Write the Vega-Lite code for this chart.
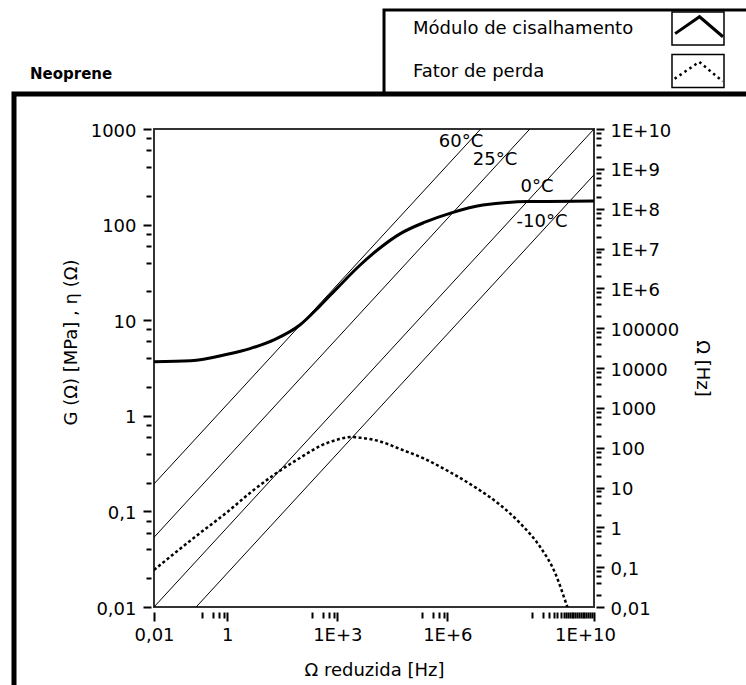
{
  "$schema": "https://vega.github.io/schema/vega-lite/v6.json",
  "width": 440,
  "height": 478,
  "autosize": {"type": "none"},
  "padding": {"left": 154, "top": 129, "right": 152, "bottom": 78},
  "background": "white",
  "config": {
    "font": "DejaVu Sans",
    "view": {"stroke": "#333333", "strokeWidth": 2},
    "axis": {
      "grid": false, "domain": false,
      "labelFont": "DejaVu Sans", "labelFontSize": 18, "labelColor": "black",
      "titleFont": "DejaVu Sans", "titleFontSize": 18, "titleFontWeight": "normal", "titleColor": "black",
      "tickColor": "black", "tickWidth": 1.5,
      "labelOverlap": false, "labelFlush": false
    }
  },
  "datasets": {
    "modulus": [
      {"omega": 0.01, "G": 3.68},
      {"omega": 0.1, "G": 3.76},
      {"omega": 1, "G": 4.4},
      {"omega": 4.15, "G": 5.05},
      {"omega": 20, "G": 6.3},
      {"omega": 95, "G": 8.9},
      {"omega": 340, "G": 14.2},
      {"omega": 1050, "G": 22.2},
      {"omega": 4200, "G": 37.8},
      {"omega": 14500, "G": 56.9},
      {"omega": 51000, "G": 80},
      {"omega": 245000, "G": 106},
      {"omega": 1170000, "G": 131},
      {"omega": 9300000, "G": 160},
      {"omega": 150000000, "G": 174},
      {"omega": 10000000000, "G": 177}
    ],
    "loss": [
      {"omega": 0.01, "eta": 0.0244},
      {"omega": 0.037, "eta": 0.0367},
      {"omega": 0.18, "eta": 0.0594},
      {"omega": 1, "eta": 0.0986},
      {"omega": 4.15, "eta": 0.156},
      {"omega": 20, "eta": 0.246},
      {"omega": 95, "eta": 0.362},
      {"omega": 340, "eta": 0.483},
      {"omega": 1170, "eta": 0.572},
      {"omega": 2400, "eta": 0.6},
      {"omega": 4200, "eta": 0.59},
      {"omega": 14500, "eta": 0.54},
      {"omega": 51000, "eta": 0.45},
      {"omega": 245000, "eta": 0.353},
      {"omega": 1170000, "eta": 0.258},
      {"omega": 5600000, "eta": 0.18},
      {"omega": 27500000, "eta": 0.117},
      {"omega": 95000000, "eta": 0.0757},
      {"omega": 340000000, "eta": 0.0425},
      {"omega": 870000000, "eta": 0.0227},
      {"omega": 1800000000, "eta": 0.0105},
      {"omega": 3000000000, "eta": 0.006}
    ],
    "isotherms": [
      {"T": "60°C", "omega": 0.01, "f": 12.3},
      {"T": "60°C", "omega": 8130000, "f": 10000000000},
      {"T": "25°C", "omega": 0.01, "f": 0.562},
      {"T": "25°C", "omega": 178000000, "f": 10000000000},
      {"T": "0°C", "omega": 0.01, "f": 0.01},
      {"T": "0°C", "omega": 10000000000, "f": 10000000000},
      {"T": "-10°C", "omega": 0.141, "f": 0.01},
      {"T": "-10°C", "omega": 10000000000, "f": 708000000}
    ],
    "isolabels": [
      {"T": "60°C", "omega": 2360000, "f": 4720000000},
      {"T": "25°C", "omega": 20000000, "f": 1670000000},
      {"T": "0°C", "omega": 279000000, "f": 350000000},
      {"T": "-10°C", "omega": 382000000, "f": 46200000}
    ]
  },
  "layer": [
    {
      "layer": [
        {
          "data": {"values": [{}]},
          "mark": {"type": "rect", "fill": "white", "stroke": "black", "strokeWidth": 3, "clip": false},
          "encoding": {
            "x": {"datum": 18750, "type": "quantitative", "scale": {"type": "log", "domain": [0.01, 10000000000]}, "axis": null},
            "x2": {"datum": 1e16},
            "y": {"datum": 17580, "type": "quantitative", "scale": {"type": "log", "domain": [0.01, 1000]}, "axis": null},
            "y2": {"datum": 2323}
          }
        },
        {
          "data": {"values": [{}]},
          "mark": {"type": "rect", "filled": false, "color": "black", "strokeWidth": 5, "clip": false},
          "encoding": {
            "x": {"datum": 1.52e-6, "type": "quantitative", "scale": {"type": "log", "domain": [0.01, 10000000000]}, "axis": null},
            "x2": {"datum": 1e16},
            "y": {"datum": 2323, "type": "quantitative", "scale": {"type": "log", "domain": [0.01, 1000]}, "axis": null},
            "y2": {"datum": 1e-5}
          }
        },
        {
          "data": {"values": [{}]},
          "mark": {"type": "text", "text": "Neoprene", "font": "DejaVu Sans", "fontSize": 15, "fontWeight": "bold", "align": "left", "baseline": "middle", "color": "black", "clip": false},
          "encoding": {
            "x": {
              "datum": 4.15e-6, "type": "quantitative", "scale": {"type": "log", "domain": [0.01, 10000000000]},
              "axis": {"orient": "bottom", "values": [10000000000], "labelExpr": "'1E+10'", "tickSize": 9, "tickWidth": 2, "offset": 5, "labelPadding": 5, "labelOffset": -9, "title": null}
            },
            "y": {"datum": 3758, "type": "quantitative", "scale": {"type": "log", "domain": [0.01, 1000]}, "axis": null}
          }
        },
        {
          "data": {"values": [{}]},
          "mark": {"type": "text", "text": "Módulo de cisalhamento", "font": "DejaVu Sans", "fontSize": 18, "align": "left", "baseline": "middle", "color": "black", "clip": false},
          "encoding": {
            "x": {"datum": 115900, "type": "quantitative", "scale": {"type": "log", "domain": [0.01, 10000000000]}, "axis": null},
            "y": {"datum": 11120, "type": "quantitative", "scale": {"type": "log", "domain": [0.01, 1000]}, "axis": null}
          }
        },
        {
          "data": {"values": [{}]},
          "mark": {"type": "text", "text": "Fator de perda", "font": "DejaVu Sans", "fontSize": 18, "align": "left", "baseline": "middle", "color": "black", "clip": false},
          "encoding": {
            "x": {"datum": 115900, "type": "quantitative", "scale": {"type": "log", "domain": [0.01, 10000000000]}, "axis": null},
            "y": {"datum": 3945, "type": "quantitative", "scale": {"type": "log", "domain": [0.01, 1000]}, "axis": null}
          }
        },
        {
          "data": {"values": [{}]},
          "mark": {"type": "point", "shape": "M-1,-0.635H1V0.635H-1Z", "size": 2704, "filled": false, "stroke": "black", "strokeWidth": 1.5, "opacity": 1, "clip": false},
          "encoding": {
            "x": {"datum": 6.86e12, "type": "quantitative", "scale": {"type": "log", "domain": [0.01, 10000000000]}, "axis": null},
            "y": {"datum": 11270, "type": "quantitative", "scale": {"type": "log", "domain": [0.01, 1000]}, "axis": null}
          }
        },
        {
          "data": {"values": [{}]},
          "mark": {"type": "point", "shape": "M-0.88,0.2L0.06,-0.45L0.96,0.32", "size": 2704, "filled": false, "stroke": "black", "strokeWidth": 3, "opacity": 1, "clip": false},
          "encoding": {
            "x": {"datum": 6.86e12, "type": "quantitative", "scale": {"type": "log", "domain": [0.01, 10000000000]}, "axis": null},
            "y": {"datum": 11270, "type": "quantitative", "scale": {"type": "log", "domain": [0.01, 1000]}, "axis": null}
          }
        },
        {
          "data": {"values": [{}]},
          "mark": {"type": "point", "shape": "M-1,-0.635H1V0.635H-1Z", "size": 2704, "filled": false, "stroke": "black", "strokeWidth": 1.5, "opacity": 1, "clip": false},
          "encoding": {
            "x": {"datum": 6.86e12, "type": "quantitative", "scale": {"type": "log", "domain": [0.01, 10000000000]}, "axis": null},
            "y": {"datum": 4045, "type": "quantitative", "scale": {"type": "log", "domain": [0.01, 1000]}, "axis": null}
          }
        },
        {
          "data": {"values": [{}]},
          "mark": {"type": "point", "shape": "M-0.9,0.3L0.05,-0.35L0.95,0.4", "size": 2704, "filled": false, "stroke": "black", "strokeWidth": 2.5, "strokeDash": [2.5, 3.5], "opacity": 1, "clip": false},
          "encoding": {
            "x": {"datum": 6.86e12, "type": "quantitative", "scale": {"type": "log", "domain": [0.01, 10000000000]}, "axis": null},
            "y": {"datum": 4045, "type": "quantitative", "scale": {"type": "log", "domain": [0.01, 1000]}, "axis": null}
          }
        },
        {
          "data": {"name": "loss"},
          "mark": {"type": "line", "color": "black", "strokeWidth": 2.5, "strokeDash": [3, 2.5], "interpolate": "monotone", "clip": true},
          "encoding": {
            "x": {
              "field": "omega", "type": "quantitative", "scale": {"type": "log", "domain": [0.01, 10000000000]},
              "axis": {"orient": "bottom", "values": [0.2, 0.4, 0.6, 0.8, 200, 400, 600, 800, 200000, 400000, 600000, 800000, 200000000, 400000000, 600000000, 800000000, 1000000000, 1250000000, 1500000000, 1750000000, 2000000000, 2250000000, 2500000000, 2750000000, 3000000000, 3500000000, 4000000000, 4500000000, 5000000000, 5500000000, 6000000000, 7000000000, 8000000000, 9000000000], "labels": false, "tickSize": 6, "tickWidth": 2, "offset": 5, "title": null}
            },
            "y": {
              "field": "eta", "type": "quantitative", "scale": {"type": "log", "domain": [0.01, 1000]},
              "axis": {"orient": "left", "values": [0.02, 0.04, 0.06, 0.08, 0.2, 0.4, 0.6, 0.8, 2, 4, 6, 8, 20, 40, 60, 80, 200, 400, 600, 800], "labels": false, "tickSize": 5, "tickWidth": 2, "offset": 3, "title": null}
            }
          }
        },
        {
          "data": {"name": "modulus"},
          "mark": {"type": "line", "color": "black", "strokeWidth": 3, "interpolate": "monotone", "clip": true},
          "encoding": {
            "x": {
              "field": "omega", "type": "quantitative",
              "scale": {"type": "log", "domain": [0.01, 10000000000]},
              "axis": {
                "orient": "bottom",
                "values": [0.01, 1, 1000, 1000000],
                "labelExpr": "datum.value==0.01?'0,01':datum.value==1?'1':datum.value==1000?'1E+3':'1E+6'",
                "tickSize": 9,
                "tickWidth": 2,
                "offset": 5,
                "labelPadding": 5,
                "title": "Ω reduzida [Hz]",
                "titlePadding": 17
              }
            },
            "y": {
              "field": "G", "type": "quantitative",
              "scale": {"type": "log", "domain": [0.01, 1000]},
              "axis": {
                "orient": "left",
                "values": [0.01, 0.1, 1, 10, 100, 1000],
                "labelExpr": "datum.value<0.05?'0,01':datum.value<0.5?'0,1':format(datum.value,'d')",
                "tickSize": 8,
                "tickWidth": 2,
                "offset": 3,
                "labelPadding": 7,
                "labelOffset": 2,
                "title": "G (Ω) [MPa] ,  η (Ω)",
                "titlePadding": 10,
                "titleY": 213
              }
            }
          }
        }
      ],
      "resolve": {"axis": {"x": "independent", "y": "independent"}}
    },
    {
      "layer": [
        {
          "data": {"name": "isotherms"},
          "mark": {"type": "line", "color": "black", "strokeWidth": 1, "clip": true},
          "encoding": {
            "x": {"field": "omega", "type": "quantitative", "scale": {"type": "log", "domain": [0.01, 10000000000]}, "axis": null},
            "y": {
              "field": "f", "type": "quantitative",
              "scale": {"type": "log", "domain": [0.01, 10000000000]},
              "axis": {
                "orient": "right",
                "values": [0.01, 0.1, 1, 10, 100, 1000, 10000, 100000, 1000000, 10000000, 100000000, 1000000000, 10000000000],
                "labelExpr": "datum.value>=1000000?'1E+'+round(log(datum.value)/LN10):(datum.value<0.05?'0,01':(datum.value<0.5?'0,1':format(datum.value,'d')))",
                "tickSize": 8,
                "tickWidth": 2,
                "offset": 2,
                "labelPadding": 6,
                "labelOffset": 2,
                "title": "Ω [Hz]",
                "titlePadding": 14
              }
            },
            "detail": {"field": "T"}
          }
        },
        {
          "data": {"name": "isolabels"},
          "mark": {"type": "text", "font": "DejaVu Sans", "fontSize": 18, "align": "center", "baseline": "middle", "color": "black", "clip": false},
          "encoding": {
            "x": {"field": "omega", "type": "quantitative", "scale": {"type": "log", "domain": [0.01, 10000000000]}, "axis": null},
            "y": {
              "field": "f", "type": "quantitative", "scale": {"type": "log", "domain": [0.01, 10000000000]},
              "axis": {"orient": "right", "values": [0.02, 0.04, 0.06, 0.08, 0.2, 0.4, 0.6, 0.8, 2, 4, 6, 8, 20, 40, 60, 80, 200, 400, 600, 800, 2000, 4000, 6000, 8000, 20000, 40000, 60000, 80000, 200000, 400000, 600000, 800000, 2000000, 4000000, 6000000, 8000000, 20000000, 40000000, 60000000, 80000000, 200000000, 400000000, 600000000, 800000000, 2000000000, 4000000000, 6000000000, 8000000000], "labels": false, "tickSize": 5, "tickWidth": 2, "offset": 2, "title": null}
            },
            "text": {"field": "T"}
          }
        }
      ],
      "resolve": {"axis": {"y": "independent"}}
    }
  ],
  "resolve": {"scale": {"y": "independent"}, "axis": {"y": "independent"}}
}
